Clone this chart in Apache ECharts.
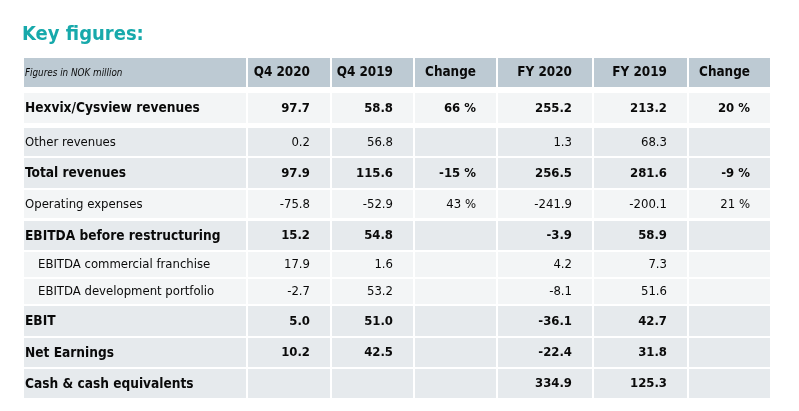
<!DOCTYPE html>
<html>
<head>
<meta charset="utf-8">
<script src="https://cdn.jsdelivr.net/npm/echarts@6/dist/echarts.min.js"></script>
<style>
html,body{margin:0;padding:0;background:#fff;}
#chart{width:799px;height:411px;}
</style>
</head>
<body>
<div id="chart"></div>
<script>
// ---- data ----
const title = 'Key figures:';
const unitNote = 'Figures in NOK million';
const columnHeaders = ['Q4 2020', 'Q4 2019', 'Change', 'FY 2020', 'FY 2019', 'Change'];
const rowLabels = [
  'Hexvix/Cysview revenues',
  'Other revenues',
  'Total revenues',
  'Operating expenses',
  'EBITDA before restructuring',
  'EBITDA commercial franchise',
  'EBITDA development portfolio',
  'EBIT',
  'Net Earnings',
  'Cash & cash equivalents'
];
const q4_2020 = [97.7, 0.2, 97.9, -75.8, 15.2, 17.9, -2.7, 5.0, 10.2, null];
const q4_2019 = [58.8, 56.8, 115.6, -52.9, 54.8, 1.6, 53.2, 51.0, 42.5, null];
const q4Change = [66, null, -15, 43, null, null, null, null, null, null];
const fy2020 = [255.2, 1.3, 256.5, -241.9, -3.9, 4.2, -8.1, -36.1, -22.4, 334.9];
const fy2019 = [213.2, 68.3, 281.6, -200.1, 58.9, 7.3, 51.6, 42.7, 31.8, 125.3];
const fyChange = [20, null, -9, 21, null, null, null, null, null, null];
const boldRows = [true, false, true, false, true, false, false, true, true, true];
const indentRows = [false, false, false, false, false, true, true, false, false, false];

// ---- layout (styles) ----
const colStarts = [0, 224, 308, 391, 474, 570, 665];
const colEnds   = [222, 306, 389, 472, 568, 663, 746];
const rowStarts = [0, 35, 70, 100, 132, 163, 194, 221, 248, 280, 311];
const rowEnds   = [29, 65, 98, 130, 160, 192, 219, 246, 278, 309, 340];
const rowShade  = ['head', 'light', 'dark', 'dark', 'light', 'dark', 'light', 'light', 'dark', 'dark', 'dark'];
const shadeColor = { head: '#bdcad3', dark: '#e6eaed', light: '#f3f5f6' };
const FONT = '"DejaVu Sans Condensed", "DejaVu Sans", sans-serif';

const valueColumns = [q4_2020, q4_2019, q4Change, fy2020, fy2019, fyChange];
const isPct = [false, false, true, false, false, true];

function fmt(v, pct) {
  if (v === null || v === undefined) return '';
  return pct ? (v + ' %') : v.toFixed(1);
}

// build cell list [col, row, text, bold, kind]
const cells = [];
for (let c = 0; c < 7; c++) {
  const t = c === 0 ? unitNote : columnHeaders[c - 1];
  cells.push([c, 0, t, c !== 0, c === 0 ? 'note' : 'head']);
}
rowLabels.forEach((lab, r) => {
  cells.push([0, r + 1, lab, boldRows[r], indentRows[r] ? 'indent' : 'label']);
  valueColumns.forEach((arr, ci) => {
    cells.push([ci + 1, r + 1, fmt(arr[r], isPct[ci]), boldRows[r], 'value']);
  });
});

const chart = echarts.init(document.getElementById('chart'), null, { renderer: 'canvas' });
chart.setOption({
  animation: false,
  title: {
    text: title,
    left: 22, top: 25, padding: 0,
    textStyle: { fontFamily: FONT, fontSize: 20, fontWeight: 'bold', color: '#17a9ab' }
  },
  grid: { left: 24, right: 29, top: 58, bottom: 13 },
  xAxis: { type: 'value', min: 0, max: 746, show: false },
  yAxis: { type: 'value', min: 0, max: 340, inverse: true, show: false },
  series: [{
    type: 'custom',
    coordinateSystem: 'cartesian2d',
    data: cells,
    encode: { x: 0, y: 1 },
    renderItem: function (params, api) {
      const c = api.value(0), r = api.value(1);
      const d = cells[params.dataIndex];
      const p0 = api.coord([colStarts[c], rowStarts[r]]);
      const p1 = api.coord([colEnds[c], rowEnds[r]]);
      const w = p1[0] - p0[0], h = p1[1] - p0[1];
      const kind = d[4];
      let tx, align;
      if (kind === 'label' || kind === 'note') { tx = p0[0] + 1; align = 'left'; }
      else if (kind === 'indent') { tx = p0[0] + 14; align = 'left'; }
      else { tx = p1[0] - 20; align = 'right'; }
      let font;
      if (kind === 'note') font = 'italic 9.8px ' + FONT;
      else if (kind === 'label' && d[3]) font = 'bold 13.6px ' + FONT;
      else if (kind === 'head') font = 'bold 13.4px ' + FONT;
      else font = (d[3] ? 'bold ' : '') + '13px ' + FONT;
      return {
        type: 'group',
        children: [
          { type: 'rect', shape: { x: p0[0], y: p0[1], width: w, height: h },
            style: { fill: shadeColor[rowShade[r]] } },
          { type: 'text',
            style: { x: tx, y: p0[1] + h / 2 + 0.5, text: d[2], align: align, verticalAlign: 'middle',
                     font: font, fill: '#0a0a0a' } }
        ]
      };
    }
  }]
});
</script>
</body>
</html>
